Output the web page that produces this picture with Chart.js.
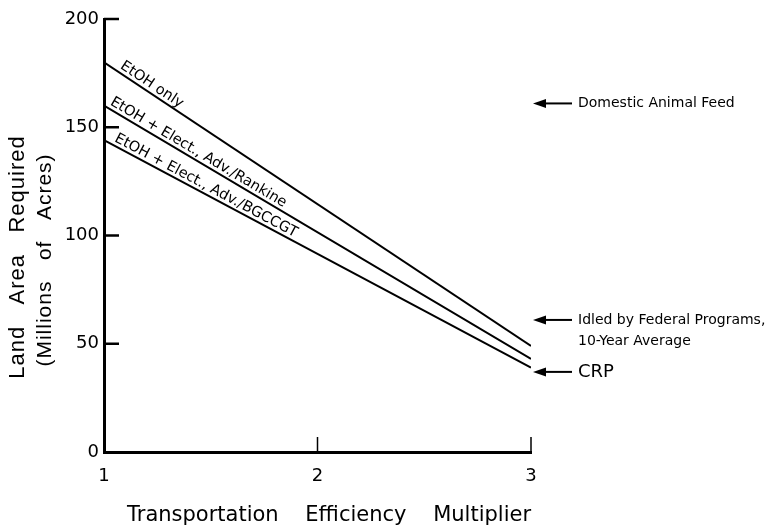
<!DOCTYPE html>
<html>
<head>
<meta charset="utf-8">
<script src="https://cdn.jsdelivr.net/npm/chart.js@4.4.0/dist/chart.umd.min.js"></script>
<style>
  html, body { margin: 0; padding: 0; background: #fff; }
  #wrap { width: 780px; height: 530px; }
</style>
</head>
<body>
<div id="wrap"><canvas id="chart"></canvas></div>
<script>
// values
const multipliers = [1, 3];
const etohOnly = [180, 49];
const etohRankine = [160, 43];
const etohBgccgt = [144, 39];
const seriesNames = ['EtOH only', 'EtOH + Elect., Adv./Rankine', 'EtOH + Elect., Adv./BGCCGT'];

// reference land pools marked with arrows on the right
const landPools = [['Domestic Animal Feed'], ['Idled by Federal Programs,', '10-Year Average'], ['CRP']];
const landPoolAcres = [161, 61, 37];

const yTicks = [0, 50, 100, 150, 200];
const xTicks = [1, 2, 3];

const xTitle = 'Transportation    Efficiency    Multiplier';
const yTitle = ['Land   Area   Required', '(Millions   of   Acres)'];

const FONT = '"DejaVu Sans", sans-serif';

function toPoints(values) {
    return multipliers.map((m, i) => ({ x: m, y: values[i] }));
}

const allSeries = [etohOnly, etohRankine, etohBgccgt];

const datasets = allSeries.map((values, i) => ({
    label: seriesNames[i],
    data: toPoints(values),
    showLine: true,
    borderColor: '#000',
    borderWidth: 2,
    pointRadius: 0,
    fill: false
}));

// label offsets along the line (px) for each series
const labelStart = [16, 4, 9];

const decorations = {
    id: 'decorations',
    afterDraw(chart) {
        const ctx = chart.ctx;
        const xs = chart.scales.x;
        const ys = chart.scales.y;
        const area = chart.chartArea;

        ctx.save();
        ctx.strokeStyle = '#000';
        ctx.fillStyle = '#000';

        // inward tick marks
        ctx.lineWidth = 2.5;
        yTicks.forEach(v => {
            if (v === 0) return;
            const y = ys.getPixelForValue(v);
            ctx.beginPath();
            ctx.moveTo(area.left, y);
            ctx.lineTo(area.left + 15, y);
            ctx.stroke();
        });
        ctx.lineWidth = 1.5;
        xTicks.forEach(v => {
            if (v === 1) return;
            const x = xs.getPixelForValue(v);
            ctx.beginPath();
            ctx.moveTo(x, area.bottom);
            ctx.lineTo(x, area.bottom - 15);
            ctx.stroke();
        });

        // series labels along the lines
        ctx.font = '14.5px ' + FONT;
        ctx.textAlign = 'left';
        ctx.textBaseline = 'alphabetic';
        chart.data.datasets.forEach((ds, i) => {
            const pts = chart.getDatasetMeta(i).data;
            const p0 = pts[0], p1 = pts[1];
            const ang = Math.atan2(p1.y - p0.y, p1.x - p0.x);
            const c = Math.cos(ang), s = Math.sin(ang);
            const d = labelStart[i], off = 4;
            ctx.save();
            ctx.translate(p0.x + c * d + s * off, p0.y + s * d - c * off);
            ctx.rotate(ang);
            ctx.fillText(ds.label, 0, 0);
            ctx.restore();
        });

        // arrows pointing at land pools
        landPools.forEach((lines, i) => {
            const y = ys.getPixelForValue(landPoolAcres[i]);
            const tip = area.right + 2;
            ctx.lineWidth = 2;
            ctx.beginPath();
            ctx.moveTo(tip + 10, y);
            ctx.lineTo(tip + 39, y);
            ctx.stroke();
            ctx.beginPath();
            ctx.moveTo(tip, y);
            ctx.lineTo(tip + 13, y - 4.5);
            ctx.lineTo(tip + 13, y + 4.5);
            ctx.closePath();
            ctx.fill();
            ctx.textAlign = 'left';
            ctx.textBaseline = 'middle';
            if (lines.length === 1 && lines[0] === 'CRP') {
                ctx.font = '18px ' + FONT;
                ctx.fillText(lines[0], tip + 45, y);
            } else {
                ctx.font = '14px ' + FONT;
                lines.forEach((t, k) => ctx.fillText(t, tip + 45, y + k * 21));
            }
        });

        // axis titles
        ctx.font = '21px ' + FONT;
        ctx.textAlign = 'left';
        ctx.textBaseline = 'middle';
        ctx.fillText(xTitle, area.left + 23, 516);

        ctx.textAlign = 'center';
        const midY = 257;
        ctx.letterSpacing = '1px';
        ctx.save();
        ctx.translate(18, midY);
        ctx.rotate(-Math.PI / 2);
        ctx.font = '22px "Liberation Sans", sans-serif';
        ctx.fillText(yTitle[0], 0, 0);
        ctx.restore();
        ctx.save();
        ctx.translate(45, midY + 3);
        ctx.rotate(-Math.PI / 2);
        ctx.font = '21px "Liberation Sans", sans-serif';
        ctx.fillText(yTitle[1], 0, 0);
        ctx.restore();
        ctx.letterSpacing = '0px';

        ctx.restore();
    }
};

new Chart(document.getElementById('chart'), {
    type: 'scatter',
    data: { datasets: datasets },
    options: {
        responsive: true,
        maintainAspectRatio: false,
        animation: false,
        layout: { padding: { left: 0, top: 19, right: 249, bottom: 0 } },
        plugins: {
            legend: { display: false },
            tooltip: { enabled: false }
        },
        scales: {
            x: {
                type: 'linear',
                min: 1,
                max: 3,
                afterFit: (scale) => { scale.height = 78; },
                afterBuildTicks: (scale) => { scale.ticks = xTicks.map(v => ({ value: v })); },
                grid: { display: false, drawTicks: false },
                border: { display: true, color: '#000', width: 3 },
                ticks: { color: '#000', padding: 14, font: { family: 'DejaVu Sans', size: 18 } }
            },
            y: {
                min: 0,
                max: 200,
                afterFit: (scale) => { scale.width = 104; },
                afterBuildTicks: (scale) => { scale.ticks = yTicks.map(v => ({ value: v })); },
                grid: { display: false, drawTicks: false },
                border: { display: true, color: '#000', width: 3 },
                ticks: { color: '#000', padding: 5, font: { family: 'DejaVu Sans', size: 18 } }
            }
        }
    },
    plugins: [decorations]
});
</script>
</body>
</html>
